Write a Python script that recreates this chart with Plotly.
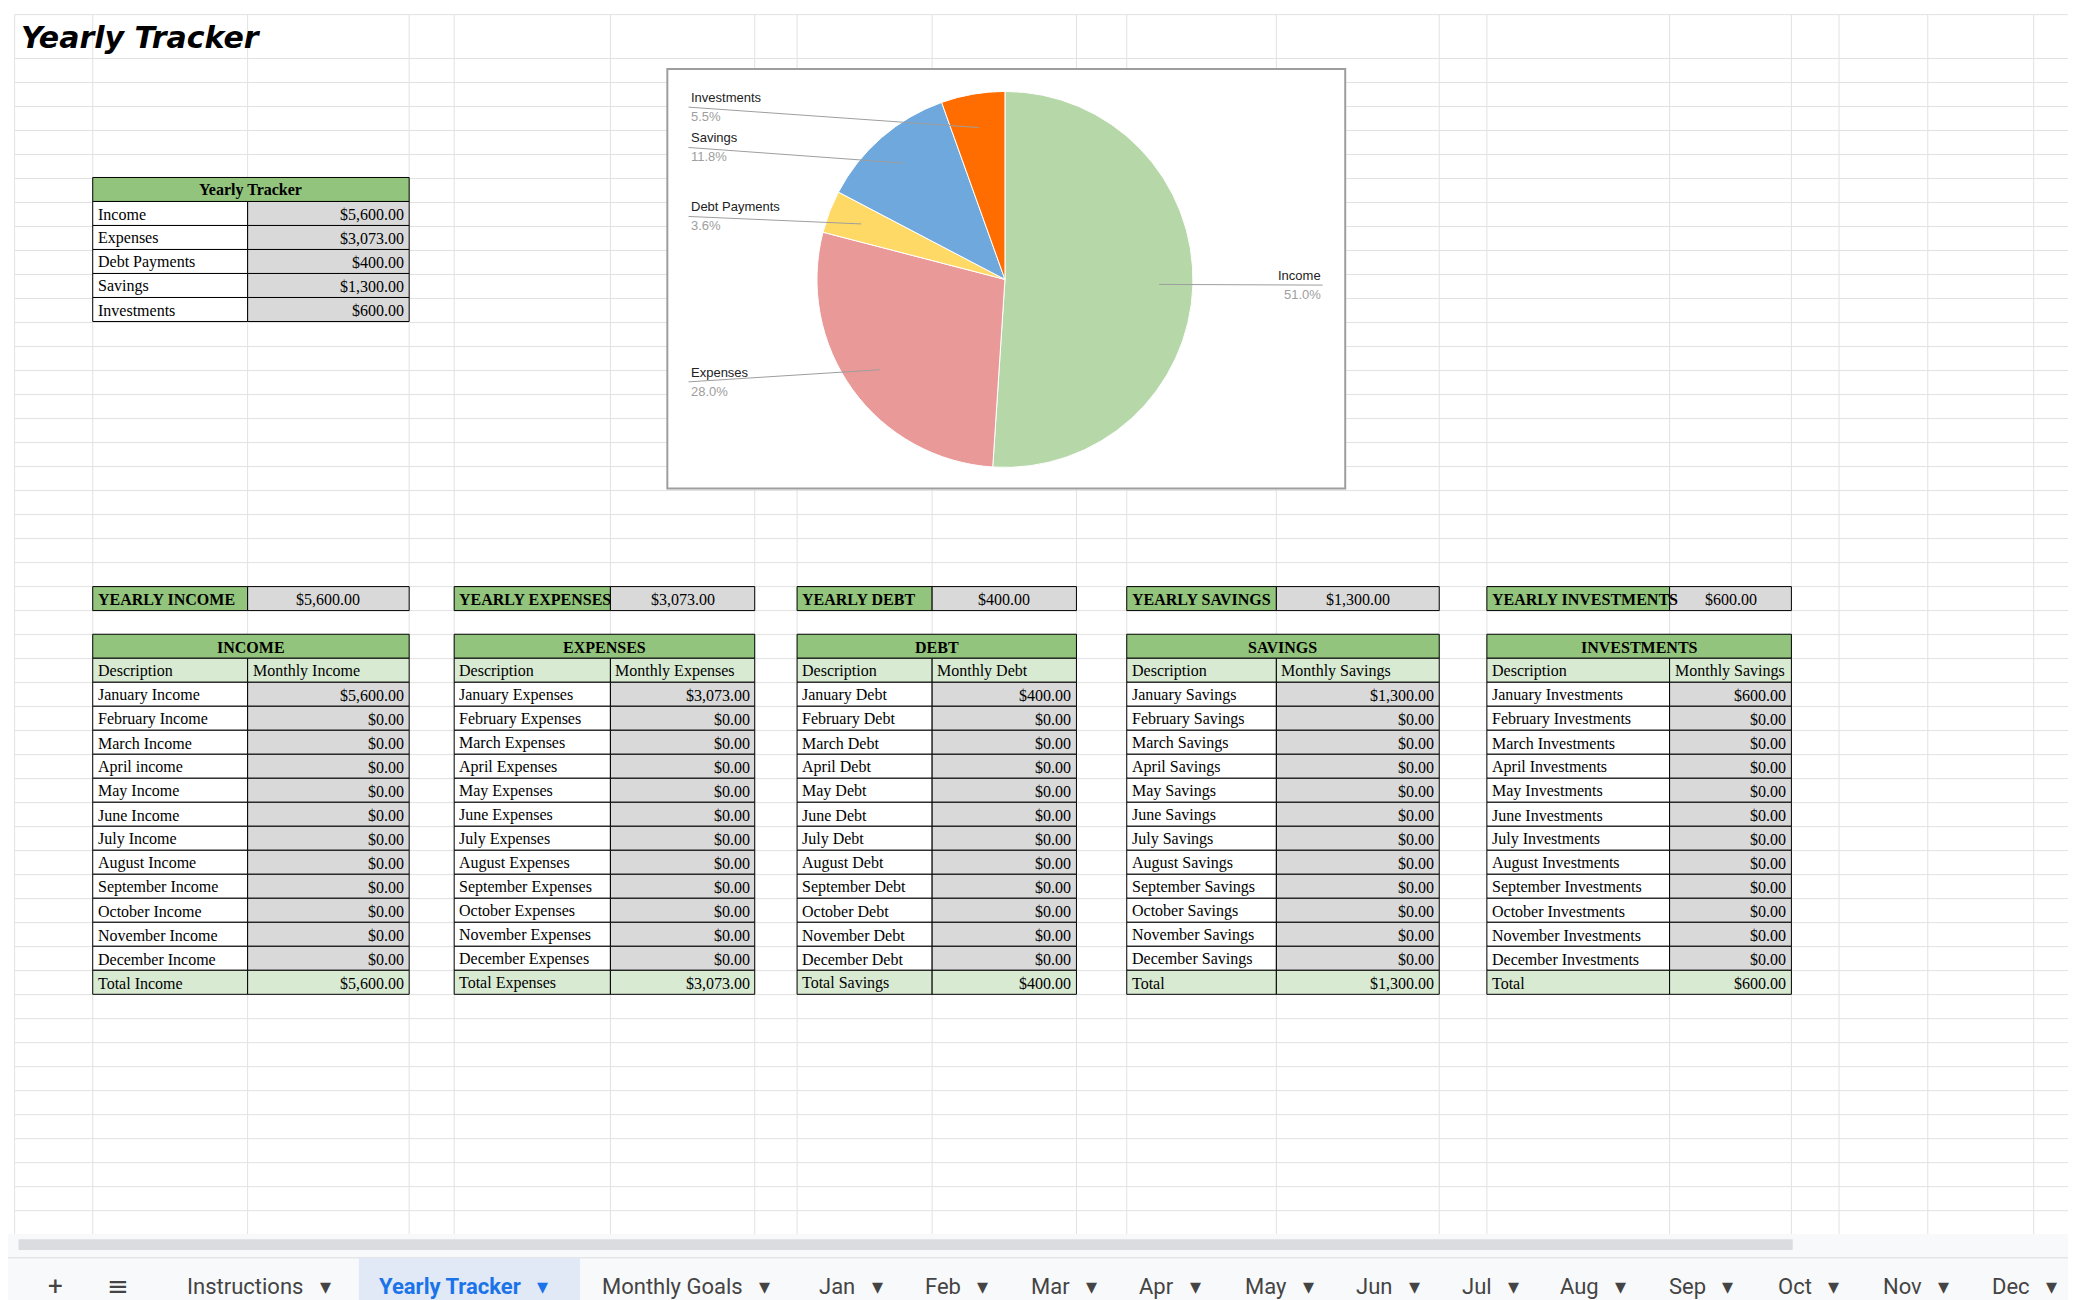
import math
import plotly.graph_objects as go

W, H = 2076, 1300
S = 2076 / 1568  # layout measured on a 1568-wide view


def P(v):
    return v * S


months = ["January", "February", "March", "April", "May", "June", "July",
          "August", "September", "October", "November", "December"]
income_monthly = [5600, 0, 0, 0, 0, 0, 0, 0, 0, 0, 0, 0]
expenses_monthly = [3073, 0, 0, 0, 0, 0, 0, 0, 0, 0, 0, 0]
debt_monthly = [400, 0, 0, 0, 0, 0, 0, 0, 0, 0, 0, 0]
savings_monthly = [1300, 0, 0, 0, 0, 0, 0, 0, 0, 0, 0, 0]
investments_monthly = [600, 0, 0, 0, 0, 0, 0, 0, 0, 0, 0, 0]

pie_labels = ["Income", "Expenses", "Debt Payments", "Savings", "Investments"]
pie_values = [sum(income_monthly), sum(expenses_monthly), sum(debt_monthly),
              sum(savings_monthly), sum(investments_monthly)]
pie_colors = ["#b6d7a8", "#ea9999", "#ffd966", "#6fa8dc", "#ff6d01"]

sheet_tabs = ["Instructions", "Yearly Tracker", "Monthly Goals", "Jan", "Feb", "Mar",
              "Apr", "May", "Jun", "Jul", "Aug", "Sep", "Oct", "Nov", "Dec"]

GREEN = "#93c47d"
LGREEN = "#d9ead3"
GRAY = "#d9d9d9"
SERIF = "Liberation Serif"
FS = 16
RH = 18.13

shapes, ann = [], []


def money(v):
    return "${:,.2f}".format(v)


def cell(x0, x1, y0, fill, text="", align="left", bold=False):
    shapes.append(dict(type="rect", x0=P(x0), x1=P(x1), y0=P(y0), y1=P(y0 + RH),
                       fillcolor=fill, line=dict(color="black", width=1), layer="above"))
    if text:
        t = "<b>%s</b>" % text if bold else text
        if align == "left":
            x, xa = P(x0) + 3, "left"
        elif align == "right":
            x, xa = P(x1) - 3, "right"
        else:
            x, xa = P((x0 + x1) / 2), "center"
        ann.append(dict(x=x, y=P(y0 + RH / 2) + 1, text=t, showarrow=False, xanchor=xa,
                        yanchor="middle", font=dict(family=SERIF, size=FS, color="black")))


# spreadsheet grid
cols = [5, 64, 181, 303, 337, 455, 564, 596, 698, 807, 845, 958, 1081, 1117, 1255,
        1347, 1383, 1450, 1530]
for c in cols:
    shapes.append(dict(type="line", x0=P(c), x1=P(c), y0=P(5), y1=P(930),
                       line=dict(color="#e2e2e2", width=1), layer="below"))
rows = [5] + [437 - k * RH for k in range(22, -28, -1)]
for r in rows:
    if r < 930:
        shapes.append(dict(type="line", x0=P(5), x1=W, y0=P(r), y1=P(r),
                           line=dict(color="#e2e2e2", width=1), layer="below"))

ann.append(dict(x=P(8), y=P(22), text="<b><i>Yearly Tracker</i></b>", showarrow=False,
                xanchor="left", yanchor="middle",
                font=dict(family="DejaVu Sans", size=30, color="black")))

# small yearly tracker table
cell(64, 303, 128, GREEN, "Yearly Tracker", "center", True)
for i, (lab, v) in enumerate(zip(pie_labels, pie_values)):
    y = 128 + RH * (i + 1)
    cell(64, 181, y, "white", lab)
    cell(181, 303, y, GRAY, money(v), "right")

# five tables
tables = [
    (64, 181, 303, "YEARLY INCOME", "INCOME", "Monthly Income", "Income",
     "Total Income", income_monthly),
    (337, 455, 564, "YEARLY EXPENSES", "EXPENSES", "Monthly Expenses", "Expenses",
     "Total Expenses", expenses_monthly),
    (596, 698, 807, "YEARLY DEBT", "DEBT", "Monthly Debt", "Debt",
     "Total Savings", debt_monthly),
    (845, 958, 1081, "YEARLY SAVINGS", "SAVINGS", "Monthly Savings", "Savings",
     "Total", savings_monthly),
    (1117, 1255, 1347, "YEARLY INVESTMENTS", "INVESTMENTS", "Monthly Savings", "Investments",
     "Total", investments_monthly),
]
for x0, xm, x1, ylab, head, sub, suffix, tot, vals in tables:
    cell(x0, xm, 437, GREEN, ylab, "left", True)
    cell(xm, x1, 437, GRAY, money(sum(vals)), "center")
    cell(x0, x1, 473, GREEN, head, "center", True)
    cell(x0, xm, 473 + RH, LGREEN, "Description")
    cell(xm, x1, 473 + RH, LGREEN, sub)
    for i, (m, v) in enumerate(zip(months, vals)):
        y = 473 + RH * (i + 2)
        name = "April income" if (m == "April" and suffix == "Income") else m + " " + suffix
        cell(x0, xm, y, "white", name)
        cell(xm, x1, y, GRAY, money(v), "right")
    y = 473 + RH * 14
    cell(x0, xm, y, LGREEN, tot)
    cell(xm, x1, y, LGREEN, money(sum(vals)), "right")

# chart frame
shapes.append(dict(type="rect", x0=P(498), x1=P(1010), y0=P(46), y1=P(363),
                   line=dict(color="#9e9e9e", width=2), fillcolor="white", layer="below"))
cx, cy, r = 753, 205, 142
total = sum(pie_values)
cum = 0
for lab, v in zip(pie_labels, pie_values):
    mid = (cum + v / 2) / total * 2 * math.pi
    cum += v
    px = cx + 0.82 * r * math.sin(mid)
    py = cy - 0.82 * r * math.cos(mid)
    ly = cy - 0.93 * r * math.cos(mid)
    pct = "%.1f%%" % (100 * v / total)
    if math.sin(mid) > 0:
        lx, xa = 993, "right"
    else:
        lx, xa = 514, "left"
    shapes.append(dict(type="line", x0=P(px), y0=P(py), x1=P(lx), y1=P(ly),
                       line=dict(color="#9e9e9e", width=1), layer="above"))
    ann.append(dict(x=P(lx), y=P(ly), text=lab, showarrow=False, xanchor=xa, yanchor="bottom",
                    font=dict(family="Liberation Sans", size=13, color="#222")))
    ann.append(dict(x=P(lx), y=P(ly), text=pct, showarrow=False, xanchor=xa, yanchor="top",
                    font=dict(family="Liberation Sans", size=13, color="#9e9e9e")))

# bottom bar
shapes.append(dict(type="rect", x0=0, x1=W, y0=P(926), y1=H, fillcolor="#f8f9fa",
                   line=dict(width=0), layer="below"))
shapes.append(dict(type="rect", x0=P(8), x1=P(1348), y0=P(930), y1=P(938),
                   fillcolor="#dadce0", line=dict(width=0)))
shapes.append(dict(type="line", x0=0, x1=W, y0=P(944), y1=P(944),
                   line=dict(color="#dadce0", width=1)))
shapes.append(dict(type="rect", x0=P(265), x1=P(432), y0=P(944), y1=H,
                   fillcolor="#e1e9f7", line=dict(width=0)))
ann.append(dict(x=P(36), y=P(965), text="+", showarrow=False,
                font=dict(family="Roboto", size=26, color="#444")))
ann.append(dict(x=P(83), y=P(965), text="≡", showarrow=False,
                font=dict(family="DejaVu Sans", size=26, color="#444")))
tab_x = [134, 279, 447, 611, 691, 771, 853, 933, 1017, 1097, 1171, 1253, 1335, 1415, 1497]
for name, tx in zip(sheet_tabs, tab_x):
    active = name == "Yearly Tracker"
    col = "#1a73e8" if active else "#444"
    t = "<b>%s</b>" % name if active else name
    ann.append(dict(x=P(tx), y=P(966), text=t + "   ▾", showarrow=False, xanchor="left",
                    yanchor="middle", font=dict(family="Roboto", size=22, color=col)))

fig = go.Figure()
# invisible trace so the pixel-coordinate axes exist
fig.add_trace(go.Scatter(x=[0, W], y=[0, H], mode="markers", marker=dict(opacity=0),
                         hoverinfo="skip", showlegend=False))
fig.add_trace(go.Pie(
    labels=pie_labels, values=pie_values, sort=False, direction="clockwise", rotation=0,
    marker=dict(colors=pie_colors, line=dict(color="white", width=1)),
    textinfo="none", showlegend=False,
    domain=dict(x=[P(cx - r) / W, P(cx + r) / W], y=[1 - P(cy + r) / H, 1 - P(cy - r) / H]),
))
fig.update_layout(
    width=W, height=H, margin=dict(l=0, r=0, t=0, b=0),
    paper_bgcolor="white", plot_bgcolor="white",
    xaxis=dict(range=[0, W], visible=False, fixedrange=True),
    yaxis=dict(range=[H, 0], visible=False, fixedrange=True),
    shapes=shapes, annotations=ann,
)
fig.write_html("out.html")
